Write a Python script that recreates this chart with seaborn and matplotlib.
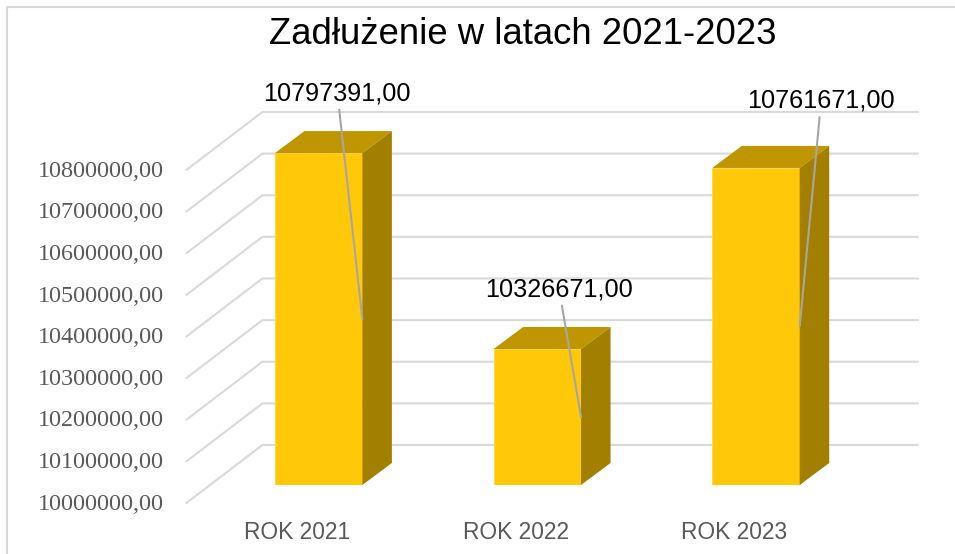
"""
Imports
"""
from matplotlib import pyplot as plt
from matplotlib.lines import Line2D
from matplotlib.transforms import ScaledTranslation
import seaborn as sns
import pandas as pd


"""
# Data
"""
years = ['ROK 2021', 'ROK 2022', 'ROK 2023']
debt = [10797391, 10326671, 10761671]
ticks = [10000000, 10100000, 10200000, 10300000, 10400000,
         10500000, 10600000, 10700000, 10800000]
label_offsets = [(-25, 226), (-22, 128), (21.5, 226)]


"""
# Fake 3D settings, in data units
"""
W, H = 955, 554
BAR_W = .4
DEPTH_X, DEPTH_Y = .135, 52900
BACK_X, BACK_Y = .243, 96150
FRONT_X, FRONT_Y = -.105, -43270
WALL_END = 2.741
GRID = '#D9D9D9'
TEXT = '#595959'


def fmt(v):
   return f'{v:.2f}'.replace('.', ',')


def shift(fig, dx, dy):
   return ScaledTranslation(dx / 72, dy / 72, fig.dpi_scale_trans)


sns.set_theme(style='white')
plt.rcParams['font.family'] = ['Liberation Sans', 'DejaVu Sans']

fig = plt.figure(figsize=(W / 100, H / 100), dpi=100)
ax = fig.add_axes([209.3 / W, 1 - 485 / H, 656 / W, 333 / H])

df = pd.DataFrame({'year': years, 'debt': debt})
sns.barplot(data=df, x='year', y='debt', color='#FFC90A', saturation=1,
            width=BAR_W, edgecolor='#FFD54A', linewidth=.6, zorder=3, ax=ax)
ax.set_xlim(-.5, 2.5)
ax.set_ylim(ticks[0], ticks[-1])
ax.set_xlabel('')
ax.set_ylabel('')
sns.despine(ax=ax, left=True, bottom=True)


"""
Gridlines: a diagonal on the side wall, then straight along the back wall
"""
for t in ticks:
   ax.plot([-.5 + FRONT_X, -.5 + BACK_X, WALL_END],
           [t + FRONT_Y, t + BACK_Y, t + BACK_Y],
           color=GRID, lw=1.5, clip_on=False, zorder=1)


"""
Top and side faces of the bars
"""
for i, v in enumerate(debt):
   left = i - BAR_W / 2
   right = i + BAR_W / 2
   ax.fill([left, right, right + DEPTH_X, left + DEPTH_X],
           [v, v, v + DEPTH_Y, v + DEPTH_Y],
           color='#C09600', lw=0, clip_on=False, zorder=4)
   ax.fill([right, right + DEPTH_X, right + DEPTH_X, right],
           [ticks[0], ticks[0] + DEPTH_Y, v + DEPTH_Y, v],
           color='#A37F00', lw=0, clip_on=False, zorder=4)


"""
Data labels with leader lines
"""
for i, v in enumerate(debt):
   ax.annotate(fmt(v), xy=(i + BAR_W / 2, (v + ticks[0]) / 2),
               xytext=label_offsets[i], textcoords='offset pixels',
               ha='center', va='center', fontsize=18.2, color='black',
               arrowprops=dict(arrowstyle='-', color='#A6A6A6', lw=1.5,
                               shrinkA=1, shrinkB=0),
               zorder=6, annotation_clip=False)


"""
Tick labels, moved to the front edge of the floor
"""
ax.set_yticks(ticks, [fmt(t) for t in ticks], family='Liberation Serif',
              fontsize=17.4, color=TEXT)
ax.set_xticks(range(len(years)), years, fontsize=16.4, color=TEXT)
ax.tick_params(axis='y', length=0, pad=32.5)
ax.tick_params(axis='x', length=0, pad=26)
for label in ax.get_yticklabels():
   label.set_transform(label.get_transform() + shift(fig, 0, -12))
for label in ax.get_xticklabels():
   label.set_transform(label.get_transform() + shift(fig, -15.5, 0))


"""
Title and the chart frame (only left and top are in the picture)
"""
fig.text(522.5 / W, 1 - 34.5 / H, 'Zadłużenie w latach 2021-2023', ha='center',
         va='center', fontsize=26.3, color='black')
fig.add_artist(Line2D([7 / W, 7 / W, 1], [0, 1 - 7 / H, 1 - 7 / H],
                      color=GRID, lw=1.5))

plt.savefig('out.png', dpi=100)
